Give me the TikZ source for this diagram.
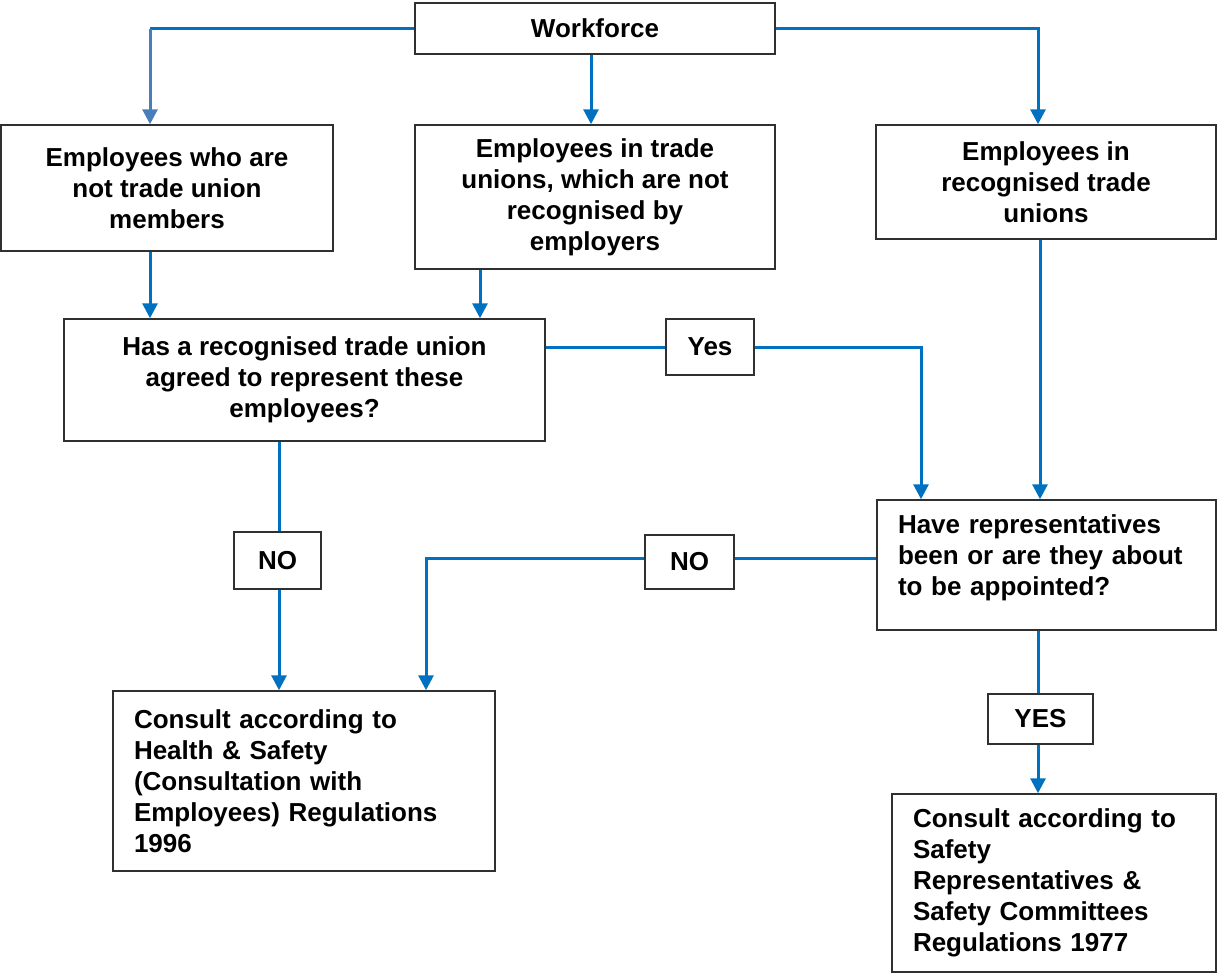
\documentclass[tikz,border=0pt]{standalone}
\usepackage{fontspec}
\setmainfont{Liberation Sans}
\usetikzlibrary{arrows.meta,calc}
\definecolor{lineblue}{HTML}{0070C0}
\definecolor{lightblue}{HTML}{4A7EBB}
\definecolor{boxline}{HTML}{303030}
\tikzset{
  box/.style={draw=boxline, line width=1.5pt, fill=white, inner sep=0pt, align=center},
  lbox/.style={box, align=left, inner xsep=21pt},
  conn/.style={lineblue, line width=3pt},
  arr/.style={conn, -{Triangle[length=15pt,width=15pt]}}
}
\begin{document}
\begin{tikzpicture}[x=1pt, y=-1pt, font=\bfseries\fontsize{26}{31}\selectfont]
\useasboundingbox (0,0) rectangle (1218,975);

\node[box, minimum width=360pt, minimum height=51pt] (wf) at (595,28.5) {Workforce};
\node[box, minimum width=332pt, minimum height=126pt] (b1) at (167,188) {Employees who are\\not trade union\\members};
\node[box, minimum width=360pt, minimum height=144pt] (b2) at (595,197) {Employees in trade\\unions, which are not\\recognised by\\employers};
\node[box, minimum width=340pt, minimum height=114pt] (b3) at (1046,182) {Employees in\\recognised trade\\unions};
\node[box, minimum width=481pt, minimum height=122pt] (b4) at (304.5,380) {Has a recognised trade union\\agreed to represent these\\employees?};
\node[box, minimum width=88pt, minimum height=56pt] (yes) at (710,347) {Yes};
\node[lbox, text width=297pt, minimum width=339pt, minimum height=130pt] (b5) at (1046.5,565) {Have representatives\\been or are they about\\to be appointed?\rule[-20pt]{0pt}{1pt}};
\node[box, minimum width=87pt, minimum height=57pt] (no1) at (277.5,560.5) {NO};
\node[box, minimum width=89pt, minimum height=54pt] (no2) at (689.5,562) {NO};
\node[lbox, text width=340pt, minimum width=382pt, minimum height=180pt] (b6) at (304,781) {Consult according to\\Health \& Safety\\(Consultation with\\Employees) Regulations\\1996};
\node[box, minimum width=105pt, minimum height=50pt] (yes2) at (1040.5,719) {YES};
\node[lbox, text width=282pt, minimum width=324pt, minimum height=178pt] (b7) at (1054,883) {Consult according to\\Safety\\Representatives \&\\Safety Committees\\Regulations 1977};

% connectors
\coordinate (k1) at ([xshift=-17pt]b1.north);
\draw[conn] (wf.west) -- (wf.west -| k1);
\draw[arr, lightblue] (wf.west -| k1) -- (k1);
\draw[arr] ([xshift=-4pt]wf.south) -- ([xshift=-4pt]b2.north);
\draw[arr] (wf.east) -| ([xshift=-8pt]b3.north);

\coordinate (k2) at ([xshift=-17pt]b1.south);
\draw[arr] (k2) -- (k2 |- b4.north);
\coordinate (k3) at ([xshift=-115pt]b2.south);
\draw[arr] (k3) -- (k3 |- b4.north);

\coordinate (k4) at ([yshift=33pt]b4.east);
\draw[conn] (k4) -- (k4 -| yes.west);
\draw[arr] (k4 -| yes.east) -| ([xshift=-125.5pt]b5.north);

\coordinate (k5) at ([xshift=-6pt]b3.south);
\draw[arr] (k5) -- (k5 |- b5.north);

\coordinate (k6) at ([xshift=-25.5pt]b4.south);
\draw[conn] (k6) -- (k6 |- no1.north);
\draw[arr] (k6 |- no1.south) -- (k6 |- b6.north);

\coordinate (k7) at ([yshift=7pt]b5.west);
\draw[conn] (k7) -- (k7 -| no2.east);
\draw[arr] (k7 -| no2.west) -| ([xshift=122pt]b6.north);

\coordinate (k8) at ([xshift=-8.5pt]b5.south);
\draw[conn] (k8) -- (k8 |- yes2.north);
\draw[arr] (k8 |- yes2.south) -- (k8 |- b7.north);
\end{tikzpicture}
\end{document}
